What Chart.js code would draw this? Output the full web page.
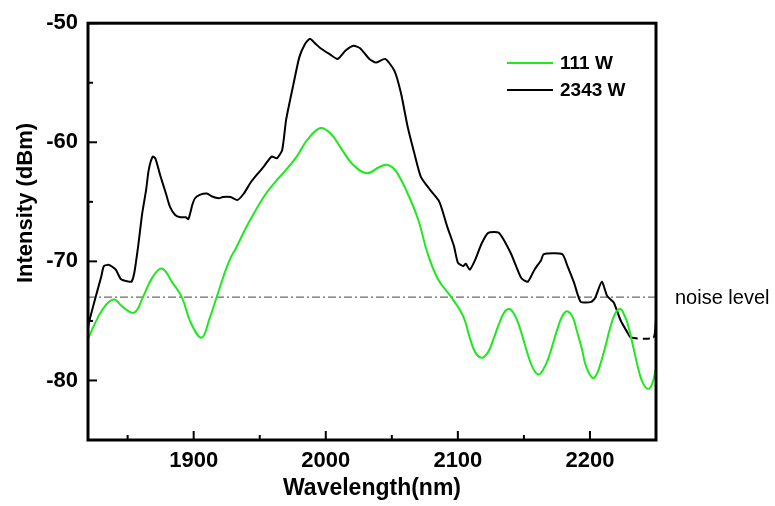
<!DOCTYPE html>
<html>
<head>
<meta charset="utf-8">
<script src="https://cdn.jsdelivr.net/npm/chart.js@4.4.1/dist/chart.umd.min.js"></script>
<style>
  html, body { margin: 0; padding: 0; background: #fff; }
  #wrap { width: 775px; height: 506px; }
</style>
</head>
<body>
<div id="wrap"><canvas id="spectrum" width="775" height="506"></canvas></div>
<script>
// Ejes y etiquetas
const xTicks = [1900, 2000, 2100, 2200];
const xMinorTicks = [1850, 1950, 2050, 2150];
const yTicks = [-80, -70, -60, -50];
const yMinorTicks = [-75, -65, -55];
const xTitle = "Wavelength(nm)";
const yTitle = "Intensity (dBm)";

const seriesLabels = ["111 W", "2343 W"];
const seriesColors = ["#1ee81e", "#000000"];

const lowWavelength = [1820, 1828, 1834, 1840, 1846, 1855, 1862, 1869, 1876, 1884, 1891, 1898, 1906, 1912, 1918, 1924, 1928, 1932,
  1940, 1953, 1962, 1970, 1978, 1986, 1996, 2004, 2011, 2020, 2031, 2041, 2047, 2053, 2062, 2070, 2077, 2085, 2095, 2104,
  2109, 2113, 2118, 2123, 2127, 2131, 2135, 2139, 2143, 2147, 2151, 2155, 2158, 2161, 2164, 2168, 2172, 2175, 2179, 2183,
  2187, 2190, 2194, 2197, 2202, 2205, 2208, 2212, 2215, 2219, 2223, 2226, 2229, 2233, 2237, 2240, 2244, 2247, 2250];
const lowIntensity = [-76.5, -74.6, -73.6, -73.2, -73.8, -74.3, -72.9, -71.3, -70.6, -71.8, -73.0, -75.2, -76.4, -74.8, -72.8, -70.8, -69.7, -68.9,
  -67.1, -64.6, -63.3, -62.3, -61.2, -59.8, -58.8, -59.3, -60.4, -61.8, -62.6, -62.05, -61.9, -62.4, -64.3, -66.5, -69.3, -71.5, -73.0, -74.6,
  -76.4, -77.6, -78.1, -77.6, -76.5, -75.3, -74.3, -74.0, -74.5, -75.6, -77.1, -78.5, -79.2, -79.5, -79.2, -78.3, -76.9, -75.8, -74.6, -74.2,
  -74.7, -75.8, -77.4, -78.8, -79.8, -79.5, -78.6, -77.0, -75.7, -74.4, -74.0, -74.5, -75.4, -77.3, -79.2, -80.2, -80.7, -80.3, -79.0];

const highWavelength = [1820, 1821, 1826, 1830, 1832, 1836, 1841, 1845, 1851, 1853, 1855, 1858, 1861, 1864, 1866, 1869, 1871, 1875, 1879, 1882,
  1886, 1890, 1894, 1896, 1899, 1901, 1905, 1910, 1914, 1919, 1922, 1928, 1933, 1938, 1943, 1948, 1953, 1959, 1963, 1967, 1970, 1975,
  1980, 1984, 1988, 1992, 1996, 2003, 2009, 2015, 2021, 2026, 2033, 2038, 2045, 2052, 2057, 2062, 2067, 2072, 2079, 2086, 2092, 2097,
  2100, 2104, 2106, 2109, 2113, 2118, 2123, 2131, 2140, 2148, 2153, 2158, 2163, 2165, 2179, 2183, 2188, 2193, 2201, 2204, 2209, 2213,
  2218, 2223, 2228, 2231, 2248, 2250];
const highIntensity = [-75.6, -75.0, -72.9, -71.3, -70.4, -70.3, -70.7, -71.5, -71.7, -71.7, -71.0, -68.7, -66.0, -64.0, -62.3, -61.2, -61.35, -62.9, -64.3, -65.4,
  -66.1, -66.3, -66.3, -66.45, -65.25, -64.7, -64.4, -64.3, -64.55, -64.7, -64.6, -64.6, -64.85, -64.3, -63.4, -62.7, -62.05, -61.2, -61.35, -60.65, -58.1, -55.4,
  -52.85, -51.8, -51.3, -51.7, -52.1, -52.6, -53.0, -52.3, -51.9, -52.1, -53.0, -53.3, -53.0, -54.0, -55.9, -58.7, -60.9, -62.9, -64.0, -65.0, -67.1, -68.7,
  -70.1, -70.4, -70.2, -70.7, -69.9, -68.5, -67.6, -67.6, -69.3, -71.4, -71.7, -70.7, -69.9, -69.4, -69.4, -70.4, -71.8, -73.4, -73.4, -73.05, -71.7, -72.9,
  -73.45, -74.9, -75.9, -76.4, -76.4, -74.9];

const noiseRange = [1820, 2250];
const noiseLevel = -73;
const noiseLabel = "noise level";

const FONT = "'Liberation Sans', Arial, sans-serif";

function toPoints(xs, ys) {
  return xs.map((x, i) => ({ x: x, y: ys[i] }));
}

// Marco, ticks hacia dentro, leyenda y títulos
const decorPlugin = {
  id: 'decor',
  afterDraw(chart) {
    const { ctx, chartArea: a, scales: { x, y } } = chart;
    ctx.save();
    ctx.strokeStyle = '#000';
    ctx.lineWidth = 2;
    const tick = (x1, y1, x2, y2) => { ctx.beginPath(); ctx.moveTo(x1, y1); ctx.lineTo(x2, y2); ctx.stroke(); };
    xTicks.forEach(v => { const p = x.getPixelForValue(v); tick(p, a.bottom, p, a.bottom - 9); });
    xMinorTicks.forEach(v => { const p = x.getPixelForValue(v); tick(p, a.bottom, p, a.bottom - 5); });
    yTicks.forEach(v => { const p = y.getPixelForValue(v); tick(a.left, p, a.left + 9, p); });
    yMinorTicks.forEach(v => { const p = y.getPixelForValue(v); tick(a.left, p, a.left + 5, p); });

    ctx.lineWidth = 3;
    ctx.strokeRect(a.left, a.top, a.right - a.left, a.bottom - a.top);

    // leyenda
    ctx.font = "bold 19px " + FONT;
    ctx.textBaseline = 'middle';
    ctx.textAlign = 'left';
    seriesLabels.forEach((label, i) => {
      const ly = 63 + i * 27;
      ctx.strokeStyle = seriesColors[i];
      ctx.lineWidth = 2;
      tick(507, ly, 553, ly);
      ctx.fillStyle = '#000';
      ctx.fillText(label, 560, ly + 1);
    });

    // etiqueta del nivel de ruido
    ctx.font = "20px " + FONT;
    ctx.fillText(noiseLabel, a.right + 19, y.getPixelForValue(noiseLevel) + 1);

    // títulos de ejes
    ctx.font = "bold 23px " + FONT;
    ctx.textAlign = 'center';
    ctx.fillText(xTitle, (a.left + a.right) / 2, 489);
    ctx.save();
    ctx.translate(26, 203);
    ctx.rotate(-Math.PI / 2);
    ctx.font = "bold 22px " + FONT;
    ctx.fillText(yTitle, 0, 0);
    ctx.restore();
    ctx.restore();
  }
};

new Chart(document.getElementById("spectrum"), {
  type: 'line',
  data: {
    datasets: [
      {
        label: seriesLabels[0],
        data: toPoints(lowWavelength, lowIntensity),
        borderColor: seriesColors[0],
        borderWidth: 2,
        pointRadius: 0,
        tension: 0.4
      },
      {
        label: seriesLabels[1],
        data: toPoints(highWavelength, highIntensity),
        borderColor: seriesColors[1],
        borderWidth: 2,
        pointRadius: 0,
        tension: 0.2,
        segment: {
          borderDash: c => (c.p0.parsed.x >= 2231 && c.p1.parsed.x <= 2248) ? [7, 5] : undefined
        }
      },
      {
        label: noiseLabel,
        data: toPoints(noiseRange, [noiseLevel, noiseLevel]),
        borderColor: '#444444',
        borderWidth: 1,
        borderDash: [8, 3, 2, 3],
        pointRadius: 0
      }
    ]
  },
  options: {
    responsive: false,
    animation: false,
    devicePixelRatio: 1,
    layout: { padding: { left: 0, top: 22, right: 119, bottom: 0 } },
    plugins: {
      legend: { display: false },
      tooltip: { enabled: false }
    },
    scales: {
      x: {
        type: 'linear',
        min: 1820,
        max: 2250,
        grid: { display: false, drawTicks: false },
        border: { display: false },
        afterBuildTicks: s => { s.ticks = xTicks.map(v => ({ value: v })); },
        afterFit: s => { s.height = 66; },
        ticks: {
          color: '#000',
          padding: 8,
          maxRotation: 0,
          font: { family: FONT, size: 22, weight: 'bold' },
          callback: v => String(v)
        }
      },
      y: {
        min: -85,
        max: -50,
        grid: { display: false, drawTicks: false },
        border: { display: false },
        afterBuildTicks: s => { s.ticks = yTicks.map(v => ({ value: v })); },
        afterFit: s => { s.width = 88; },
        ticks: {
          color: '#000',
          padding: 10,
          font: { family: FONT, size: 22, weight: 'bold' },
          callback: v => String(v)
        }
      }
    }
  },
  plugins: [decorPlugin]
});
</script>
</body>
</html>
